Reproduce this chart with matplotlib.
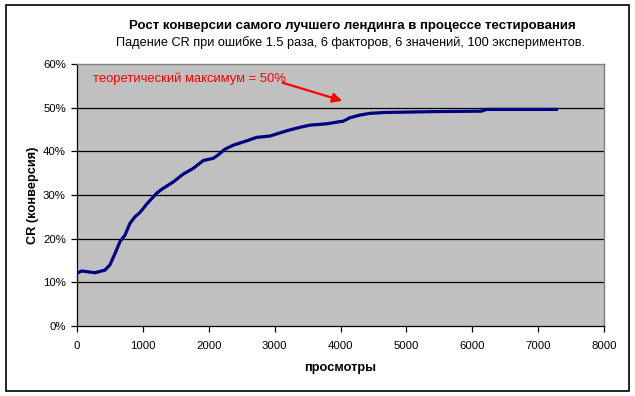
import matplotlib
matplotlib.use("Agg")
import matplotlib.pyplot as plt
from matplotlib.patches import Rectangle
from matplotlib.ticker import FuncFormatter

plt.rcParams['font.family'] = ['Liberation Sans', 'DejaVu Sans']

views = [0, 71, 273, 425, 500, 577, 652, 728, 804, 880, 956, 1057, 1209, 1285,
         1462, 1613, 1765, 1917, 2068, 2144, 2246, 2372, 2575, 2727, 2929, 3182,
         3384, 3536, 3789, 3991, 4041, 4143, 4294, 4446, 4674, 5433, 6141, 6217, 7304]
cr = [12.1, 12.6, 12.2, 12.8, 14.0, 16.6, 19.3, 20.8, 23.5, 25.0, 26.0, 27.9, 30.4, 31.3,
      33.0, 34.8, 36.1, 37.9, 38.4, 39.2, 40.5, 41.4, 42.4, 43.2, 43.5, 44.7,
      45.5, 46.0, 46.3, 46.8, 46.9, 47.7, 48.3, 48.7, 48.9, 49.1, 49.2, 49.6, 49.6]
cr = [v / 100 for v in cr]

x_ticks = [0, 1000, 2000, 3000, 4000, 5000, 6000, 7000, 8000]
y_ticks = [0, 0.1, 0.2, 0.3, 0.4, 0.5, 0.6]

title = "Рост конверсии самого лучшего лендинга в процессе тестирования"
subtitle = "Падение CR при ошибке 1.5 раза, 6 факторов, 6 значений, 100 экспериментов."
annot_text = "теоретический максимум = 50%"

fig = plt.figure(figsize=(6.35, 3.96), dpi=100)
fig.patch.set_facecolor('white')
ax = fig.add_axes([77/635, 1 - 326/396, (604-77)/635, (326-64)/396])
ax.set_facecolor('#C0C0C0')

for y in y_ticks[1:-1]:
    ax.axhline(y, color='black', lw=0.9, zorder=1)

ax.plot(views, cr, color='#000080', lw=2.3, zorder=3, solid_capstyle='butt')

ax.set_xlim(0, 8000)
ax.set_ylim(0, 0.6)
ax.set_xticks(x_ticks)
ax.set_yticks(y_ticks)
ax.yaxis.set_major_formatter(FuncFormatter(lambda v, p: f"{v*100:.0f}%"))
ax.tick_params(direction='out', length=4, width=0.9, labelsize=8.2, pad=4, colors='black')
ax.tick_params(axis='x', pad=7)

for s in ['top', 'right']:
    ax.spines[s].set_color('#808080')
    ax.spines[s].set_linewidth(1.0)
for s in ['left', 'bottom']:
    ax.spines[s].set_color('black')
    ax.spines[s].set_linewidth(0.9)

ax.set_xlabel("просмотры", fontsize=9.2, fontweight='bold', labelpad=8)
ax.set_ylabel("CR (конверсия)", fontsize=9.2, fontweight='bold', labelpad=3)

ax.annotate("", xy=(4067, 0.514), xytext=(3080, 0.559),
            arrowprops=dict(arrowstyle='-|>', color='red', lw=1.6,
                            mutation_scale=14), zorder=4)
ax.text(243, 0.566, annot_text, color='red', fontsize=9.4, va='center', ha='left', zorder=5)

fig.text(352/635, 1 - 26/396, title, fontsize=9.5, fontweight='bold', ha='center', va='center')
fig.text(351/635, 1 - 43/396, subtitle, fontsize=9.2, ha='center', va='center')

fig.patches.append(Rectangle((6/635, 5/396), (629-6)/635, (391-5)/396,
                             transform=fig.transFigure, fill=False,
                             edgecolor='black', lw=1.2))

fig.savefig("out.png", dpi=100)
